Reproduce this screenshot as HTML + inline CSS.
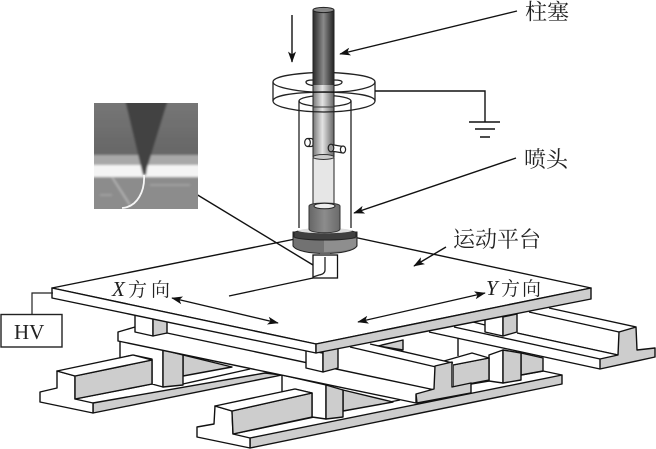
<!DOCTYPE html>
<html><head><meta charset="utf-8"><style>
html,body{margin:0;padding:0;background:#fff;width:656px;height:449px;overflow:hidden}
svg{display:block}
.c{font-family:"Liberation Serif","Noto Serif CJK SC",serif;font-size:22px;fill:#222}
.d{font-family:"Liberation Serif","Noto Serif CJK SC",serif;font-size:19px;fill:#222}
.s polygon,.s path{stroke:#111;stroke-width:1.4;stroke-linejoin:round}
.s path{fill:none}
.s polygon.n{stroke:none;fill:#fff}
.w{fill:#fff}.g{fill:#cdcdcd}
</style></head><body>
<svg width="656" height="449" viewBox="0 0 656 449" xmlns="http://www.w3.org/2000/svg">
<defs>
<linearGradient id="r1" x1="0" x2="1" y1="0" y2="0"><stop offset="0" stop-color="#2a2a2a"/><stop offset=".5" stop-color="#8a8a8a"/><stop offset="1" stop-color="#222"/></linearGradient>
<linearGradient id="r2" x1="0" x2="1" y1="0" y2="0"><stop offset="0" stop-color="#777"/><stop offset=".45" stop-color="#e4e4e4"/><stop offset="1" stop-color="#666"/></linearGradient>
<linearGradient id="n" x1="0" x2="1" y1="0" y2="0"><stop offset="0" stop-color="#666"/><stop offset=".5" stop-color="#8c8c8c"/><stop offset="1" stop-color="#6a6a6a"/></linearGradient>
<linearGradient id="sky" x1="0" x2="0" y1="0" y2="1"><stop offset="0" stop-color="#777"/><stop offset="1" stop-color="#666"/></linearGradient>
<marker id="a" viewBox="0 0 14 10" refX="13" refY="5" markerWidth="12" markerHeight="8" orient="auto-start-reverse" markerUnits="userSpaceOnUse"><path d="M0 0L14 5L0 10L3.5 5z" fill="#111"/></marker>
<filter id="b" x="-5%" y="-5%" width="110%" height="110%"><feGaussianBlur stdDeviation="1"/></filter>
<clipPath id="ic"><rect x="94" y="103" width="104" height="106"/></clipPath>
</defs>

<g class="s">
<!-- far back gray wedge and wall edge -->
<polygon class="g" points="378,346 403,340 403,350"/>
<path d="M458,338V356M473,322L485,325"/>

<!-- long front base -->
<polygon class="n" points="233,434 343,411 400,400 471,384 489,381 503,383 521,375 543,371 557,374 562,375 250,438"/>
<path d="M233,434L343,411M343,411L400,400M471,384L489,381M503,383L521,375M521,375L543,371L562,375"/>
<polygon class="g" points="250,438 562,375 562,384 250,448"/>

<!-- right-middle gray, post, small T -->
<polygon class="g" points="521,353 543,358 543,371 521,375"/>
<polygon class="w" points="489,355 503,350 503,383 489,381"/>
<polygon class="g" points="503,350 521,353 521,380 503,383"/>
<polygon class="g" points="453,365 489,358 489,380 453,387"/>
<polygon class="w" points="444,361 472,353 489,358 453,365"/>

<!-- centre lower parts -->
<polygon class="g" points="343,390 393,402 343,411"/>
<polygon class="w" points="282,375 326,385 326,419 312,417 312,393 295,389 282,392"/>
<polygon class="g" points="326,385 343,390 343,417 326,419"/>

<!-- right rail -->
<polygon class="n" points="529,312 549,308 636,327 618,355 517,333"/>
<path d="M529,312L619,332M549,308L636,327M517,333L618,355"/>
<polygon class="n" points="429,332 454,327 517,333 618,355 600,369"/>
<path d="M454,327L600,359M429,332L600,369"/>
<path d="M517,333L618,355"/>
<polygon class="g" points="619,332 636,327 637,350 655,348 655,357 600,369 600,359 618,355"/>

<!-- left rear parts -->
<polygon class="g" points="183,355 232,367 183,376"/>
<polygon class="n" points="75,399 152,384 183,384 250,369 265,373 93,403"/>
<path d="M75,399L152,384M183,384L250,369"/>
<polygon class="g" points="93,403 265,373 282,375 93,413"/>
<polygon class="w" points="120,341 163,350 163,387 152,384 152,359 133,355 120,358"/>
<polygon class="g" points="163,350 183,355 183,385 163,387"/>

<!-- left T rail -->
<polygon class="w" points="57,371 75,376 75,399 93,403 93,413 40,402 40,392 57,388"/>
<polygon class="g" points="75,376 152,360 152,384 75,399"/>
<polygon class="w" points="57,371 133,355 152,360 75,376"/>

<!-- front T rail -->
<polygon class="w" points="215,406 232,411 233,434 250,438 250,448 197,437 197,427 214,424"/>
<polygon class="g" points="232,411 312,393 312,417 233,434"/>
<polygon class="w" points="215,406 295,389 312,393 232,411"/>

<!-- centre T rail wall + beam -->
<polygon class="n" points="350,346 370,344 453,363 453,387 416,395 337,372"/>
<path d="M370,344L453,363"/>
<polygon class="w" points="118,332 135,327 167,333 435,390 416,395 416,403 118,341"/>
<path d="M350,347L436,367"/>
<polygon class="g" points="435,366 452,362 452,387 471,383 471,393 417,403 416,394 434,389"/>

<!-- upper posts -->
<polygon class="w" points="135,314 153,318 153,336 135,332"/>
<polygon class="g" points="153,318 167,316 167,333 153,336"/>
<polygon class="w" points="306,350 323,353 323,372 306,368"/>
<polygon class="g" points="323,350 338,347 338,368 323,372"/>
<polygon class="w" points="485,318 503,315 503,336 485,332"/>
<polygon class="g" points="503,317 517,314 517,332 503,336"/>

<!-- plate -->
<polygon class="w" points="52,288 330,232 591,288 316,344"/>
<polygon class="w" points="52,288 316,344 316,353 52,298"/>
<polygon class="g" points="316,344 591,288 591,299 316,353"/>
</g>

<!-- HV -->
<rect x="1" y="314.5" width="61" height="32.5" fill="#fff" stroke="#222" stroke-width="1.4"/>
<path d="M32,314V293H53" fill="none" stroke="#222" stroke-width="1.2"/>
<text x="14" y="339" font-family="'Liberation Serif',serif" font-size="21" fill="#222">HV</text>

<!-- direction arrows and labels -->
<line x1="172" y1="298" x2="278" y2="323" stroke="#111" stroke-width="1.3" marker-start="url(#a)" marker-end="url(#a)"/>
<line x1="358" y1="322" x2="485" y2="293" stroke="#111" stroke-width="1.3" marker-start="url(#a)" marker-end="url(#a)"/>
<text y="296" class="d"><tspan x="112" font-style="italic" font-size="21">X</tspan><tspan x="128">方</tspan><tspan x="151">向</tspan></text>
<text y="295" class="d"><tspan x="486" font-style="italic" font-size="21">Y</tspan><tspan x="501">方</tspan><tspan x="522">向</tspan></text>

<!-- line on plate to tip -->
<path d="M229,296L313,278" stroke="#111" stroke-width="1.3" fill="none"/>
<!-- tip -->
<rect x="313" y="255" width="24.5" height="23" fill="#fff" stroke="#111" stroke-width="1.3"/>
<path d="M325,257V270Q325,274 319,275L313,277" fill="none" stroke="#222" stroke-width="1.3"/>

<!-- cylinder -->
<path d="M299,101V228M351,101V228" stroke="#222" stroke-width="1.3" fill="none"/>
<ellipse cx="325" cy="101" rx="26" ry="5.5" fill="none" stroke="#222" stroke-width="1.3"/>

<!-- liquid -->
<rect x="313" y="158" width="21" height="48" fill="#e6e6e6" stroke="#222" stroke-width="1"/>
<!-- rod -->
<rect x="313" y="10" width="21" height="75" fill="url(#r1)"/>
<rect x="313" y="85" width="21" height="72" fill="url(#r2)"/>
<ellipse cx="323.5" cy="157" rx="10.5" ry="2.5" fill="#ccc" stroke="#333" stroke-width="1"/>
<ellipse cx="323.5" cy="10" rx="10.5" ry="2.6" fill="#888" stroke="#222" stroke-width="1"/>
<path d="M313,10V157M334,10V157" stroke="#222" stroke-width="1" fill="none"/>

<!-- disk -->
<g fill="none" stroke="#222" stroke-width="1.3">
<path d="M313,72.7C290,74 273,77 273,82C273,87 295,91 313,92M334,72.7C358,74 375,77 375,82C375,87 355,92 334,92"/>
<path d="M273,82V101M375,82V101"/>
<path d="M273,101C273,107 298,112 324,112C350,112 375,107 375,101M273,101C273,96 290,92.5 324,92C358,92.5 375,96 375,101"/>
<path d="M313,80C308,80 306,81 306,82C306,84 309,85 313,85.5M334,80C340,80 342,81 342,82C342,84 339,85 334,85.5"/>
</g>
<path d="M313,92H334" stroke="#111" stroke-width="1.2"/>
<path d="M313,107H334" stroke="#333" stroke-width="1"/>

<!-- pins -->
<g fill="#fff" stroke="#222" stroke-width="1.2">
<rect x="306" y="138.5" width="7" height="8" rx="2"/>
<ellipse cx="307.5" cy="142.5" rx="2.8" ry="4"/>
<path d="M331,144.5L343,146.5V153L331,151Z"/>
<ellipse cx="343" cy="149.5" rx="2.6" ry="3.5"/>
<ellipse cx="331" cy="148" rx="2.8" ry="3.8" fill="#999"/>
</g>

<!-- nozzle -->
<path d="M293,232V246C296,251 310,253.5 325,253.5C340,253.5 354,251 357,246V232Z" fill="#727272" stroke="#222"/>
<path d="M324,239H356V246C353,250 340,252 324,252Z" fill="#8e8e8e"/>
<path d="M294,233C294,228 356,228 356,233V237C350,241 300,241 294,237Z" fill="#3f3f3f" stroke="#222"/>
<path d="M298,231C300,227 350,227 352,231C345,234 305,234 298,231Z" fill="#ddd"/>
<path d="M309,206C309,202 340,202 340,206V229C340,234 309,234 309,229Z" fill="url(#n)" stroke="#333"/>
<ellipse cx="324.5" cy="206" rx="10.5" ry="2.8" fill="#eee" stroke="#222"/>
<rect x="320" y="253" width="10" height="2" fill="#666"/>

<!-- leaders -->
<g stroke="#111" stroke-width="1.4" fill="none">
<line x1="292" y1="15" x2="292" y2="62" marker-end="url(#a)"/>
<line x1="517" y1="11" x2="340" y2="54" marker-end="url(#a)"/>
<line x1="516" y1="158" x2="354" y2="213" marker-end="url(#a)"/>
<line x1="446" y1="247" x2="414" y2="266" marker-end="url(#a)"/>
<path d="M375,91H485V122"/>
<path d="M469,122H500M475,129H495M480,137H490"/>
<line x1="196" y1="194" x2="313" y2="265"/>
</g>

<!-- inset -->
<g clip-path="url(#ic)">
<g filter="url(#b)">
<rect x="90" y="100" width="112" height="56" fill="url(#sky)"/>
<rect x="90" y="155" width="112" height="10" fill="#a8a8a8"/>
<rect x="90" y="165" width="112" height="12" fill="#f4f4f4"/>
<rect x="90" y="177" width="112" height="36" fill="#8c8c8c"/>
<polygon points="125,100 168,100 147,168 146,175 143,175" fill="#434343"/>
<path d="M112,177L130,205" stroke="#b0b0b0" stroke-width="2" fill="none"/>
<path d="M100,195H112M150,185H190" stroke="#a0a0a0" stroke-width="2" fill="none"/>
</g>
<path d="M144,175C145,190 138,207 122,208" stroke="#f6f6f6" stroke-width="1.8" fill="none"/>
</g>

<!-- labels -->
<text x="525" y="19.5" class="c">柱塞</text>
<text x="524" y="167" class="c">喷头</text>
<text x="453" y="247" class="c">运动平台</text>
</svg>
</body></html>
